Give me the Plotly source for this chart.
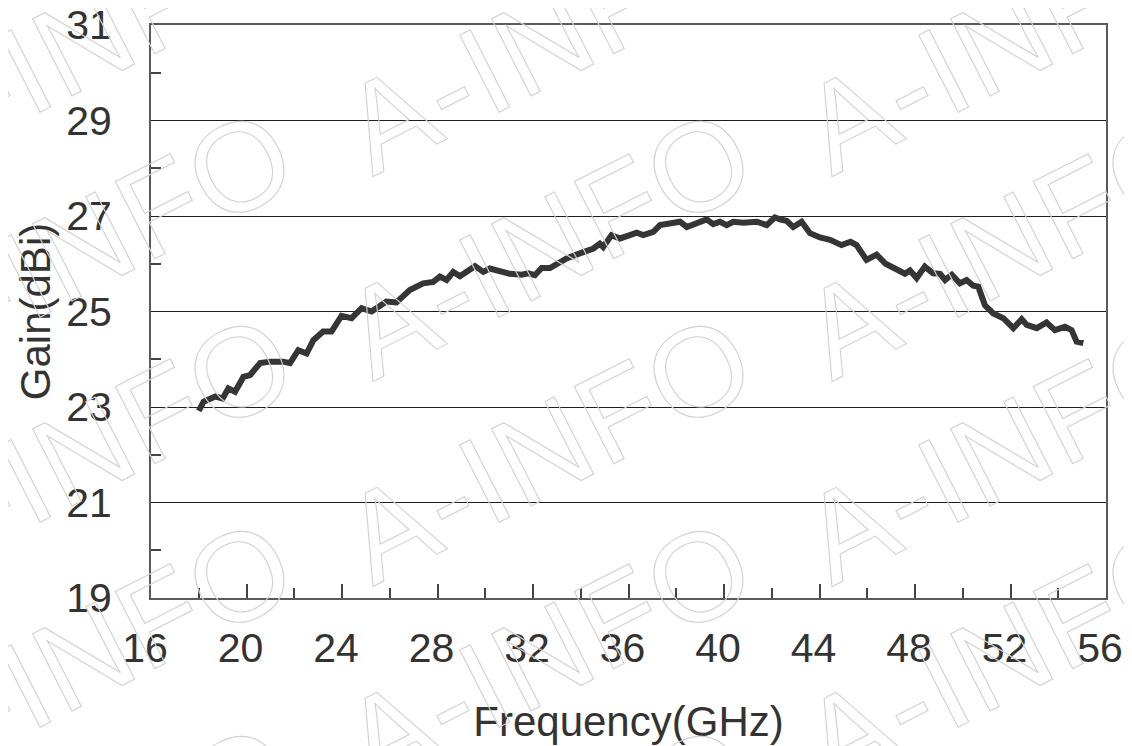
import plotly.graph_objects as go

# ---- data ----
freq_ghz = [18.00, 18.20, 18.70, 19.00, 19.24, 19.52, 19.87, 20.15, 20.57, 20.98,
            21.54, 21.82, 22.17, 22.52, 22.80, 23.21, 23.56, 23.98, 24.40, 24.82,
            25.24, 25.86, 26.28, 26.84, 27.40, 27.82, 28.10, 28.38, 28.66, 28.94,
            29.57, 29.92, 30.19, 30.61, 31.03, 31.52, 31.80, 32.08, 32.36, 32.71,
            33.06, 33.41, 33.76, 34.25, 34.53, 34.80, 34.94, 35.29, 35.64, 36.06,
            36.34, 36.62, 37.04, 37.32, 37.74, 38.16, 38.44, 38.86, 39.27, 39.55,
            39.83, 40.11, 40.39, 40.81, 41.37, 41.79, 42.13, 42.41, 42.62, 42.90,
            43.25, 43.60, 44.02, 44.44, 44.92, 45.30, 45.55, 45.97, 46.39, 46.77,
            47.23, 47.58, 47.79, 48.07, 48.41, 48.76, 49.05, 49.26, 49.54, 49.88,
            50.16, 50.44, 50.65, 50.93, 51.28, 51.70, 52.12, 52.47, 52.68, 53.10,
            53.51, 53.86, 54.28, 54.56, 54.77, 55.05]
gain_dbi = [22.92, 23.11, 23.22, 23.18, 23.39, 23.32, 23.63, 23.67, 23.92, 23.95,
            23.95, 23.92, 24.19, 24.12, 24.40, 24.58, 24.58, 24.91, 24.86, 25.07,
            25.00, 25.21, 25.19, 25.45, 25.59, 25.62, 25.73, 25.66, 25.83, 25.74,
            25.95, 25.83, 25.90, 25.83, 25.79, 25.77, 25.80, 25.76, 25.91, 25.91,
            26.02, 26.11, 26.18, 26.27, 26.32, 26.42, 26.35, 26.60, 26.53, 26.60,
            26.65, 26.60, 26.67, 26.81, 26.83, 26.88, 26.77, 26.84, 26.93, 26.83,
            26.88, 26.81, 26.88, 26.86, 26.88, 26.81, 26.97, 26.92, 26.90, 26.77,
            26.88, 26.64, 26.55, 26.50, 26.39, 26.46, 26.39, 26.08, 26.19, 26.00,
            25.90, 25.79, 25.86, 25.70, 25.94, 25.80, 25.79, 25.66, 25.77, 25.59,
            25.66, 25.54, 25.52, 25.13, 24.96, 24.86, 24.65, 24.84, 24.72, 24.65,
            24.77, 24.61, 24.68, 24.61, 24.37, 24.34]

x_title = "Frequency(GHz)"
y_title = "Gain(dBi)"
watermark_text = "A-INFO"

# ---- layout geometry (pixels, figure coordinates; page adds 8px body margin) ----
W, H = 1132, 746
L, R, T, B = 143, 34, 17, 156
PW, PH = W - L - R, H - T - B
PAGE_OFF = 8

FONT = "Liberation Sans, Arial, Helvetica, sans-serif"
TXT = "#333333"

fig = go.Figure()
fig.add_trace(go.Scatter(
    x=freq_ghz, y=gain_dbi, mode="lines",
    line=dict(color="#353535", width=6, shape="linear"),
    showlegend=False, hoverinfo="x+y",
))

# tiled watermark (outlined, light grey) - centres in window pixels
wm_cols = [89, 548, 1007]
wm_rows = [38, 243, 448, 653, 858]
annots = []
for cy in wm_rows:
    for cx in wm_cols:
        annots.append(dict(
            xref="paper", yref="paper",
            x=(cx - PAGE_OFF - L) / PW, y=(H - B - (cy - PAGE_OFF)) / PH,
            xanchor="center", yanchor="middle",
            text='<span style="fill:none;stroke:#d2d2d2;stroke-width:1.1px;letter-spacing:2px">%s</span>' % watermark_text,
            showarrow=False, textangle=-27,
            font=dict(family="Liberation Sans Narrow, Liberation Sans, sans-serif", size=126,
                      color="rgba(0,0,0,0)"),
        ))

axis_common = dict(
    showline=True, linecolor="#5a5a5a", linewidth=2, mirror=True,
    zeroline=False, tickcolor="#444444", tickwidth=1.5,
    tickfont=dict(family=FONT, size=41, color=TXT),
    ticklabeloverflow="allow",
)

fig.update_layout(
    width=W, height=H,
    margin=dict(l=L, r=R, t=T, b=B, autoexpand=False),
    paper_bgcolor="white", plot_bgcolor="white",
    font=dict(family=FONT, color=TXT),
    annotations=annots,
    xaxis=dict(
        range=[16, 56], tick0=16, dtick=4, ticks="inside", ticklen=14,
        showgrid=False, ticklabelshift=-6, ticklabelstandoff=13,
        minor=dict(dtick=2, tick0=16, ticks="inside", ticklen=10,
                   tickcolor="#444444", tickwidth=1.5, showgrid=False),
        title=dict(text=x_title, font=dict(family=FONT, size=42, color=TXT), standoff=36),
        automargin=False,
        **axis_common,
    ),
    yaxis=dict(
        range=[19, 31], tick0=19, dtick=2, ticks="",
        showgrid=True, gridcolor="#1e1e1e", gridwidth=1.2,
        ticklabelstandoff=29,
        minor=dict(dtick=1, tick0=19, ticks="inside", ticklen=10,
                   tickcolor="#444444", tickwidth=1.5, showgrid=False),
        title=dict(text=y_title, font=dict(family=FONT, size=42, color=TXT), standoff=2),
        automargin=False,
        **axis_common,
    ),
)

fig.write_html("out.html")
